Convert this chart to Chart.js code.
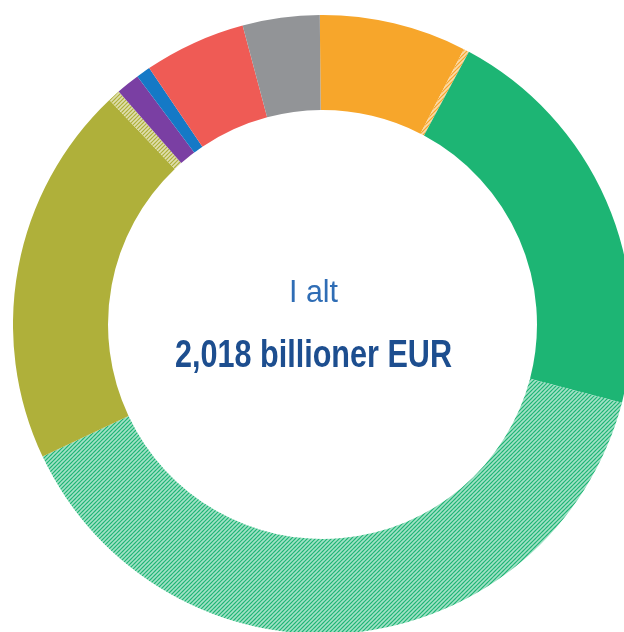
<!DOCTYPE html>
<html>
<head>
<meta charset="utf-8">
<script src="https://cdn.jsdelivr.net/npm/chart.js@4"></script>
<style>
  html, body { margin: 0; padding: 0; background: #fff; overflow: hidden; }
  body { width: 624px; height: 632px; position: relative; }
  #wrap { position: absolute; left: 13px; top: 15px; width: 619px; height: 619px; }
</style>
</head>
<body>
<div id="wrap"><canvas id="canvas" width="619" height="619"></canvas></div>
<script>
// slices, clockwise from the top (hatched = NextGenerationEU part)
const labels = [
  'Indre marked, innovation og digitalisering',
  'Indre marked, innovation og digitalisering – NextGenerationEU',
  'Samhørighed, modstandsdygtighed og værdier',
  'Samhørighed, modstandsdygtighed og værdier – NextGenerationEU',
  'Naturressourcer og miljø',
  'Naturressourcer og miljø – NextGenerationEU',
  'Migration og grænseforvaltning',
  'Sikkerhed og forsvar',
  'Naboskabet og verden',
  'Europæisk offentlig forvaltning'
];
// billion EUR
const values = [155, 6, 428, 785, 402, 13, 25, 15, 107, 81];
const hatched = [false, true, false, true, false, true, false, false, false, false];
const baseColors = ['#f7a62b', '#f7a62b', '#1db574', '#1db574', '#afb03a', '#afb03a',
                    '#7a3fa3', '#1579c6', '#ef5b55', '#929497'];
const centerLines = ['I alt', '2,018 billioner EUR'];

function hatch(color) {
  const c = document.createElement('canvas');
  c.width = 4; c.height = 4;
  const g = c.getContext('2d');
  g.fillStyle = color;
  g.fillRect(0, 0, 4, 4);
  g.strokeStyle = 'rgba(255,255,255,0.6)';
  g.lineWidth = 1.6;
  g.beginPath();
  g.moveTo(-1, 5); g.lineTo(5, -1);
  g.moveTo(-1, 1); g.lineTo(1, -1);
  g.moveTo(3, 5); g.lineTo(5, 3);
  g.stroke();
  return g.createPattern(c, 'repeat');
}

const fills = baseColors.map((c, i) => hatched[i] ? hatch(c) : c);

const centerText = {
  id: 'centerText',
  afterDraw(chart) {
    const arc = chart.getDatasetMeta(0).data[0];
    const cx = arc.x, cy = arc.y;
    const ctx = chart.ctx;
    ctx.save();
    ctx.textAlign = 'center';
    ctx.textBaseline = 'alphabetic';
    ctx.fillStyle = '#2f6db5';
    ctx.font = '31px "Liberation Sans Narrow", "Liberation Sans", Arial, sans-serif';
    const w1 = ctx.measureText(centerLines[0]).width;
    ctx.save();
    ctx.translate(cx - 9, cy - 22.5);
    ctx.scale(49 / w1, 1);
    ctx.fillText(centerLines[0], 0, 0);
    ctx.restore();

    ctx.fillStyle = '#1d4e8f';
    ctx.font = 'bold 39px "Liberation Sans Narrow", "Liberation Sans", Arial, sans-serif';
    const w2 = ctx.measureText(centerLines[1]).width;
    ctx.translate(cx - 9, cy + 42);
    ctx.scale(277 / w2, 1);
    ctx.fillText(centerLines[1], 0, 0);
    ctx.restore();
  }
};

const data = {
  labels: labels,
  datasets: [{
    data: values,
    backgroundColor: fills,
    borderWidth: 0,
    hoverOffset: 0
  }]
};

const config = {
  type: 'doughnut',
  data: data,
  options: {
    responsive: false,
    animation: false,
    cutout: '69.3%',
    rotation: -0.5,
    layout: { padding: 0 },
    plugins: {
      legend: { display: false },
      tooltip: { enabled: false }
    }
  },
  plugins: [centerText]
};

const canvas = document.getElementById('canvas');
const chart = new Chart(canvas, config);
</script>
</body>
</html>
